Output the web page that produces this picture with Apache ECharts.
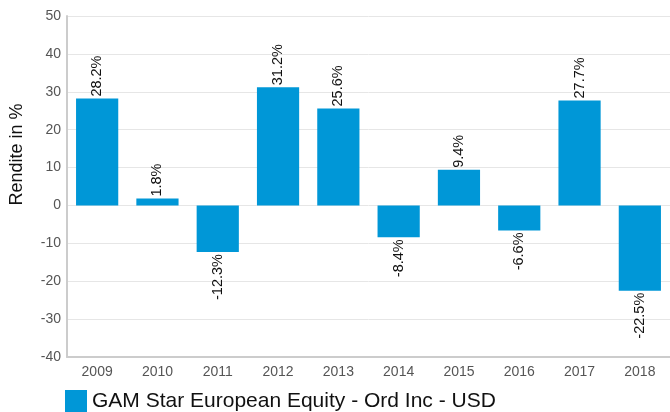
<!DOCTYPE html>
<html><head><meta charset="utf-8">
<script src="https://cdn.jsdelivr.net/npm/echarts@6/dist/echarts.min.js"></script>
<style>html,body{margin:0;padding:0;background:#fff}#c{width:670px;height:412px}</style>
</head><body><div id="c"></div>
<script>
var categories = ['2009','2010','2011','2012','2013','2014','2015','2016','2017','2018'];
var values = [28.2, 1.8, -12.3, 31.2, 25.6, -8.4, 9.4, -6.6, 27.7, -22.5];
var seriesName = 'GAM Star European Equity - Ord Inc - USD';
var yTicks = {min: -40, max: 50, interval: 10};

var chart = echarts.init(document.getElementById('c'));
var data = values.map(function (v) {
  return {
    value: v,
    label: v >= 0 ? {position: 'top', align: 'left', distance: 2}
                  : {position: 'bottom', align: 'right', distance: 2}
  };
});
chart.setOption({
  animation: false,
  grid: {left: 65, right: 0, top: 16, bottom: 55},
  legend: {
    left: 60, top: 385, itemWidth: 22, itemHeight: 22, icon: 'rect', itemGap: 5,
    textStyle: {fontFamily: 'Liberation Sans', fontSize: 21, color: '#111'},
    data: [seriesName]
  },
  xAxis: {
    type: 'category', data: categories,
    axisLine: {onZero: false, lineStyle: {color: '#ccc', width: 2}},
    axisTick: {show: false},
    axisLabel: {fontFamily: 'Liberation Sans', fontSize: 14, color: '#555', margin: 8}
  },
  yAxis: {
    type: 'value', min: yTicks.min, max: yTicks.max, interval: yTicks.interval,
    name: 'Rendite in %', nameLocation: 'middle', nameGap: 41,
    nameTextStyle: {fontFamily: 'Liberation Sans', fontSize: 18, color: '#111', padding: [0, 0, 0, 64]},
    axisLine: {show: true, lineStyle: {color: '#ccc', width: 2}},
    axisTick: {show: false},
    splitLine: {lineStyle: {color: '#e6e6e6'}},
    axisLabel: {fontFamily: 'Liberation Sans', fontSize: 14, color: '#555', margin: 6}
  },
  series: [{
    name: seriesName, type: 'bar', data: data, barWidth: '70%',
    itemStyle: {color: '#0097D7'},
    label: {
      show: true, rotate: 90, verticalAlign: 'middle',
      fontFamily: 'Liberation Sans', fontSize: 14.5, color: '#111',
      formatter: function (p) { return p.value.toFixed(1) + '%'; }
    }
  }]
});
</script></body></html>
